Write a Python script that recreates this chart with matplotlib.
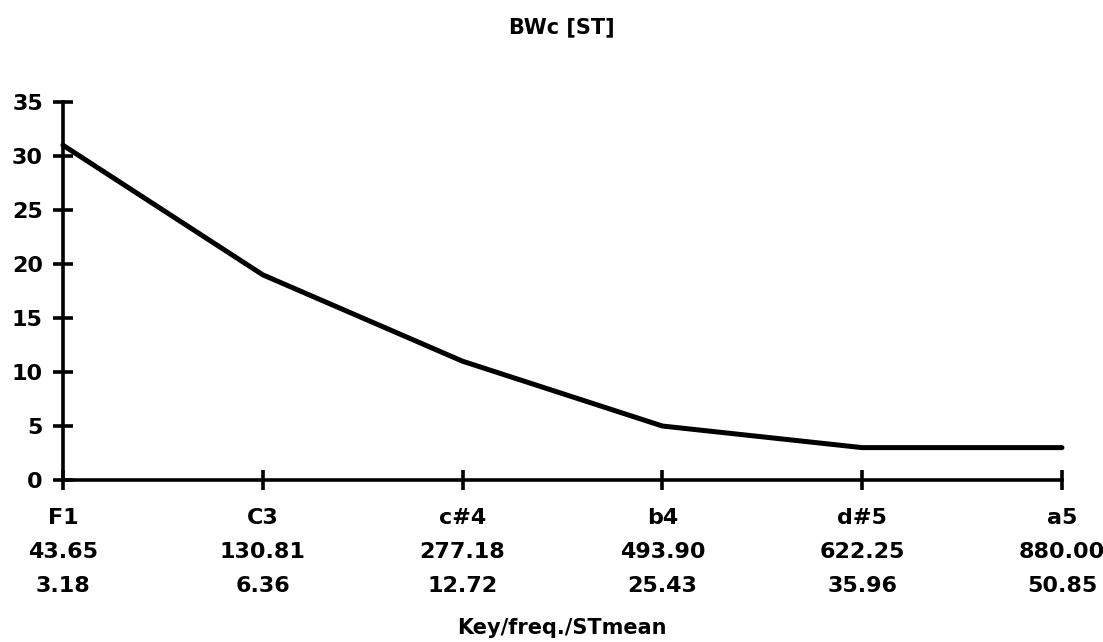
import numpy as np
import matplotlib
matplotlib.use("Agg")
import matplotlib.pyplot as plt

# data
keys = ["F1", "C3", "c#4", "b4", "d#5", "a5"]
freqs = ["43.65", "130.81", "277.18", "493.90", "622.25", "880.00"]
st_mean = ["3.18", "6.36", "12.72", "25.43", "35.96", "50.85"]
bwc = [31, 19, 11, 5, 3, 3]

plt.rcParams['font.family'] = ['DejaVu Sans']
plt.rcParams['font.weight'] = 'bold'

fig = plt.figure(figsize=(11.03, 6.42), dpi=100)
ax = fig.add_axes([0.0571, 0.2523, 0.9057, 0.5888])

x = np.arange(len(keys))
ax.plot(x, bwc, color="black", lw=3.6, solid_capstyle="round", clip_on=False)

ax.set_xlim(0, len(keys) - 1)
ax.set_ylim(0, 35)
ax.set_yticks(range(0, 36, 5))
ax.set_xticks(x)
ax.set_xticklabels([f"{k}\n{f}\n{s}" for k, f, s in zip(keys, freqs, st_mean)],
                   linespacing=1.85)

for s in ["top", "right"]:
    ax.spines[s].set_visible(False)
for s in ["left", "bottom"]:
    ax.spines[s].set_linewidth(2.6)

ax.tick_params(axis="both", direction="inout", length=15, width=2.6,
               labelsize=16, colors="black")
ax.tick_params(axis="y", pad=7)
ax.tick_params(axis="x", pad=13)
for lbl in ax.get_xticklabels() + ax.get_yticklabels():
    lbl.set_fontweight("bold")

fig.text(0.5094, 0.958, "BWc [ST]", ha="center", va="center",
         fontsize=15, fontweight="bold")
fig.text(0.5094, 0.012, "Key/freq./STmean", ha="center", va="baseline",
         fontsize=15, fontweight="bold")

fig.savefig("out.png", dpi=100, facecolor="white")
